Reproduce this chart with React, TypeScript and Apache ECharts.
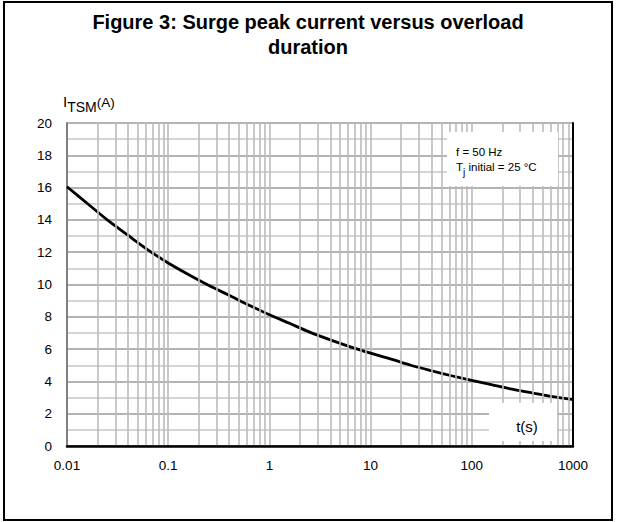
import React, { useEffect, useRef } from 'react';
import * as echarts from 'echarts';

const durations = [0.01, 0.016, 0.025, 0.04, 0.063, 0.1, 0.16, 0.25, 0.4, 0.63, 1, 1.6, 2.5, 4, 6.3, 10, 16, 25, 40, 63, 100, 160, 250, 400, 630, 1000];
const currents = [16.05, 15.0, 14.0, 13.05, 12.15, 11.33, 10.6, 9.95, 9.33, 8.72, 8.13, 7.58, 7.05, 6.57, 6.14, 5.75, 5.38, 5.0, 4.66, 4.35, 4.06, 3.78, 3.52, 3.28, 3.06, 2.87];
const xTickLabels = ['0.01', '0.1', '1', '10', '100', '1000'];
const yTickLabels = ['0', '2', '4', '6', '8', '10', '12', '14', '16', '18', '20'];
const decades = [0.01, 0.1, 1, 10, 100];
const minorMultipliers = [2, 3, 4, 5, 6, 7, 8, 9];

const FONT = '"Liberation Sans", Arial, sans-serif';

export default function App() {
  const ref = useRef<HTMLDivElement>(null);
  useEffect(() => {
    if (!ref.current) return;
    const chart = echarts.init(ref.current, null, { renderer: 'svg' });
    const minorLines: { xAxis: number }[] = [];
    decades.forEach((d) => minorMultipliers.forEach((m) => minorLines.push({ xAxis: +(d * m).toPrecision(6) })));
    const seriesData = durations.map((t, i) => [t, currents[i]]);

    chart.setOption({
      animation: false,
      backgroundColor: '#fff',
      textStyle: { fontFamily: FONT },
      grid: { left: 67, right: 44, top: 123, bottom: 76, show: false },
      xAxis: [
        {
          type: 'log',
          logBase: 10,
          min: 0.01,
          max: 1000,
          position: 'bottom',
          axisLine: { show: true, lineStyle: { color: '#808080', width: 2 } },
          axisTick: { show: false },
          axisLabel: {
            color: '#000',
            fontSize: 13.5,
            fontFamily: FONT,
            margin: 12,
            formatter: (_v: number, i: number) => xTickLabels[i] ?? '',
          },
          splitLine: { show: true, lineStyle: { color: '#bbbbbb', width: 1.6 } },
          minorTick: { show: false },
          minorSplitLine: { show: false },
        },
        {
          type: 'log',
          logBase: 10,
          min: 0.01,
          max: 1000,
          position: 'top',
          z: 5,
          axisLine: { show: true, lineStyle: { color: '#000', width: 2.5 } },
          axisTick: { show: false },
          axisLabel: { show: false },
          splitLine: { show: false },
        },
      ],
      yAxis: [
        {
          type: 'value',
          min: 0,
          max: 20,
          interval: 2,
          position: 'left',
          axisLine: { show: true, lineStyle: { color: '#808080', width: 2 } },
          axisTick: { show: false },
          axisLabel: {
            color: '#000',
            fontSize: 13.5,
            fontFamily: FONT,
            margin: 15,
            formatter: (_v: number, i: number) => yTickLabels[i] ?? '',
          },
          splitLine: { show: true, lineStyle: { color: '#9a9a9a', width: 1.6 } },
          minorTick: { show: false, splitNumber: 2 },
          minorSplitLine: { show: true, lineStyle: { color: '#c6c6c6', width: 1.6 } },
        },
        {
          type: 'value',
          min: 0,
          max: 20,
          interval: 2,
          position: 'right',
          z: 5,
          axisLine: { show: true, lineStyle: { color: '#000', width: 2 } },
          axisTick: { show: false },
          axisLabel: { show: false },
          splitLine: { show: false },
        },
      ],
      series: [
        {
          type: 'line',
          data: [],
          xAxisIndex: 0,
          yAxisIndex: 0,
          z: 1,
          silent: true,
          markLine: {
            silent: true,
            symbol: ['none', 'none'],
            label: { show: false },
            lineStyle: { color: '#bbbbbb', width: 1.6, type: 'solid' },
            emphasis: { disabled: true },
            data: minorLines,
          },
        },
        {
          type: 'line',
          data: seriesData,
          xAxisIndex: 0,
          yAxisIndex: 0,
          z: 4,
          smooth: 0.3,
          showSymbol: false,
          lineStyle: { color: '#000', width: 2.8 },
        },
      ],
      graphic: [
        {
          type: 'rect',
          z: 0,
          silent: true,
          shape: { x: 4, y: 2, width: 608, height: 518 },
          style: { fill: 'none', stroke: '#000', lineWidth: 2 },
        },
        {
          type: 'text',
          x: 308,
          y: 22,
          style: {
            text: 'Figure 3: Surge peak current versus overload',
            font: `bold 20px ${FONT}`,
            fill: '#000',
            align: 'center',
            verticalAlign: 'middle',
          },
        },
        {
          type: 'text',
          x: 308,
          y: 47,
          style: {
            text: 'duration',
            font: `bold 20px ${FONT}`,
            fill: '#000',
            align: 'center',
            verticalAlign: 'middle',
          },
        },
        {
          type: 'text',
          x: 63,
          y: 94,
          style: {
            text: '{a|I}{b|TSM}{c|(A)}',
            fill: '#000',
            rich: {
              a: { fontSize: 15, fontFamily: FONT, verticalAlign: 'bottom', padding: [0, 0, 5, 0] },
              b: { fontSize: 14, fontFamily: FONT, verticalAlign: 'bottom' },
              c: { fontSize: 13.5, fontFamily: FONT, verticalAlign: 'bottom', padding: [0, 0, 5, 0] },
            },
          },
        },
        {
          type: 'rect',
          z: 100,
          silent: true,
          shape: { x: 447, y: 132, width: 111, height: 54 },
          style: { fill: '#fff', stroke: 'none' },
        },
        {
          type: 'text',
          z: 101,
          x: 456,
          y: 146,
          style: { text: 'f = 50 Hz', font: `11.5px ${FONT}`, fill: '#000' },
        },
        {
          type: 'text',
          z: 101,
          x: 456,
          y: 161,
          style: {
            text: '{a|T}{b|j}{a| initial = 25 °C}',
            fill: '#000',
            rich: {
              a: { fontSize: 11.5, fontFamily: FONT, verticalAlign: 'bottom', padding: [0, 0, 4, 0] },
              b: { fontSize: 10, fontFamily: FONT, verticalAlign: 'bottom' },
            },
          },
        },
        {
          type: 'rect',
          z: 100,
          silent: true,
          shape: { x: 489, y: 403, width: 68, height: 38 },
          style: { fill: '#fff', stroke: 'none' },
        },
        {
          type: 'text',
          z: 101,
          x: 527,
          y: 426,
          style: { text: 't(s)', font: `15px ${FONT}`, fill: '#000', align: 'center', verticalAlign: 'middle' },
        },
      ],
    });
    return () => chart.dispose();
  }, []);
  return (
    <div style={{ position: 'fixed', left: 0, top: 0, width: 617, height: 522, background: '#fff' }}>
      <div ref={ref} style={{ width: 617, height: 522 }} />
    </div>
  );
}
